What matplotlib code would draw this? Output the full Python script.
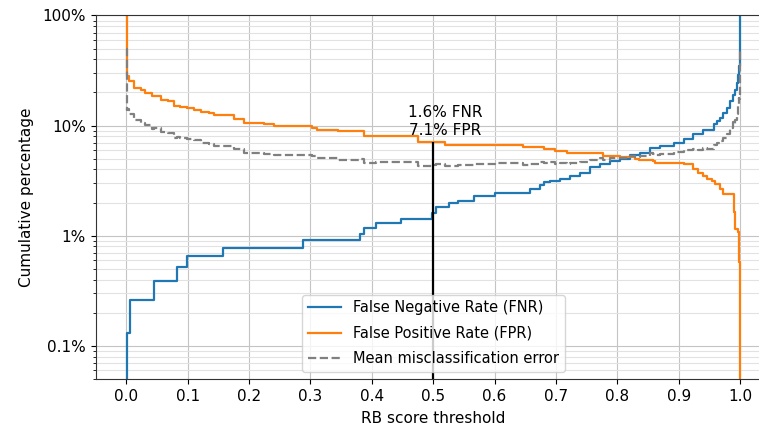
import numpy as np
import matplotlib
matplotlib.use("Agg")
import matplotlib.pyplot as plt
from matplotlib.ticker import FuncFormatter, NullFormatter, LogLocator

# False negative rate (%) as a step function of the RB score threshold
fnr_threshold = [0.0, 0.001, 0.006, 0.045, 0.083, 0.098, 0.158, 0.288, 0.380,
                 0.387, 0.406, 0.448, 0.498, 0.505, 0.525, 0.541, 0.566, 0.600,
                 0.658, 0.674, 0.680, 0.691, 0.707, 0.723, 0.740, 0.756, 0.772,
                 0.788, 0.805, 0.821, 0.837, 0.854, 0.870, 0.892, 0.908, 0.924,
                 0.940, 0.957, 0.962, 0.967, 0.973, 0.978, 0.984, 0.989, 0.992,
                 0.995, 0.997, 0.998, 0.9995, 1.0, 1.0]
fnr_pct = [0.0, 0.13, 0.26, 0.39, 0.52, 0.65, 0.78, 0.91, 1.04,
           1.17, 1.30, 1.43, 1.6, 1.82, 1.98, 2.08, 2.31, 2.43,
           2.65, 2.88, 3.05, 3.15, 3.27, 3.50, 3.75, 4.17, 4.46,
           4.78, 5.02, 5.38, 5.69, 6.31, 6.53, 6.90, 7.50, 8.32,
           9.10, 10.3, 11.0, 11.8, 13.1, 14.5, 16.7, 19.1, 21.2,
           24.4, 29.0, 34.5, 42.5, 48.8, 100.0]

# False positive rate (%) as a step function of the RB score threshold
fpr_threshold = [0.0, 0.0008, 0.004, 0.012, 0.023, 0.031, 0.042, 0.056, 0.067,
                 0.077, 0.088, 0.099, 0.110, 0.121, 0.134, 0.143, 0.175, 0.191,
                 0.202, 0.224, 0.240, 0.303, 0.311, 0.345, 0.387, 0.476, 0.520,
                 0.647, 0.680, 0.699, 0.718, 0.777, 0.805, 0.829, 0.835, 0.859,
                 0.862, 0.908, 0.924, 0.932, 0.940, 0.946, 0.954, 0.959, 0.967,
                 0.973, 0.990, 0.992, 0.997, 0.999, 1.0, 1.0]
fpr_pct = [100.0, 28.0, 25.2, 22.0, 20.9, 19.8, 18.5, 17.2, 16.9,
           15.2, 14.8, 14.5, 14.0, 13.2, 12.9, 12.4, 11.5, 10.6,
           10.5, 10.3, 10.0, 9.6, 9.2, 8.9, 8.0, 7.1, 6.7,
           6.4, 6.1, 5.9, 5.6, 5.3, 5.2, 5.0, 4.9, 4.8,
           4.6, 4.46, 4.0, 3.75, 3.5, 3.27, 3.15, 2.94, 2.65,
           2.4, 1.63, 1.15, 1.08, 0.58, 0.29, 0.0]

chosen_threshold = 0.5
x_ticks = [0.0, 0.1, 0.2, 0.3, 0.4, 0.5, 0.6, 0.7, 0.8, 0.9, 1.0]
y_ticks = [0.1, 1, 10, 100]

fnr_threshold = np.array(fnr_threshold)
fpr_threshold = np.array(fpr_threshold)
fnr_pct = np.array(fnr_pct)
fpr_pct = np.array(fpr_pct)


def step_value(thr, vals, x):
    """Value of a post-step function at x (last breakpoint at or before x)."""
    idx = np.searchsorted(thr, x, side="right") - 1
    return vals[np.clip(idx, 0, len(vals) - 1)]


# Mean misclassification error = average of FNR and FPR on a shared grid
grid = np.union1d(fnr_threshold, fpr_threshold)
mean_pct = 0.5 * (step_value(fnr_threshold, fnr_pct, grid) +
                  step_value(fpr_threshold, fpr_pct, grid))
# keep the final vertical jumps at threshold 1.0
grid = np.append(grid, 1.0)
mean_pct = np.append(mean_pct, 0.5 * (fnr_pct[-1] + fpr_pct[-1]))

fnr_at = step_value(fnr_threshold[:-1], fnr_pct[:-1], chosen_threshold)
fpr_at = step_value(fpr_threshold[:-1], fpr_pct[:-1], chosen_threshold)

plt.rcParams["font.family"] = ["DejaVu Sans"]
plt.rcParams["font.size"] = 11

fig = plt.figure(figsize=(7.59, 4.28), dpi=100)
ax = fig.add_axes([0.1261, 0.1145, 0.8893, 0.8493])

ax.set_yscale("log")
ymin, ymax = 0.05, 100

ax.step(fnr_threshold, fnr_pct, where="post", color="#1f77b4", lw=1.6,
        label="False Negative Rate (FNR)")
ax.step(fpr_threshold, fpr_pct, where="post", color="#ff7f0e", lw=1.6,
        label="False Positive Rate (FPR)")
ax.step(grid, mean_pct, where="post", color="#808080", lw=1.6, ls="--",
        label="Mean misclassification error")

ax.vlines(chosen_threshold, ymin, fpr_at, color="black", lw=1.6, zorder=3)
ax.annotate(f"{fnr_at:.1f}% FNR\n{fpr_at:.1f}% FPR",
            xy=(chosen_threshold, fpr_at), xytext=(8.5, 3),
            textcoords="offset points", ha="center", va="bottom",
            fontsize=11)

ax.set_xlim(-0.05, 1.05)
ax.set_ylim(ymin, ymax)
ax.set_xticks(x_ticks)
ax.set_xticklabels([f"{t:.1f}" for t in x_ticks])
ax.set_yticks(y_ticks)
ax.yaxis.set_major_formatter(FuncFormatter(lambda v, _: f"{v:g}%"))
ax.yaxis.set_minor_locator(LogLocator(base=10, subs=np.arange(2, 10)))
ax.yaxis.set_minor_formatter(NullFormatter())
ax.tick_params(labelsize=11)

ax.grid(True, which="major", color="#c4c4c4", lw=0.8)
ax.grid(True, which="minor", axis="y", color="#e2e2e2", lw=0.8)
ax.set_axisbelow(True)

for side in ("left", "bottom", "top"):
    ax.spines[side].set_color("#333333")

ax.set_xlabel("RB score threshold", fontsize=11, labelpad=5)
ax.set_ylabel("Cumulative percentage", fontsize=11, labelpad=6)
ax.legend(loc="lower center", framealpha=0.8, edgecolor="#cccccc",
          fontsize=10.5, labelspacing=0.7, handlelength=2.3)

fig.savefig("out.png", dpi=100)
